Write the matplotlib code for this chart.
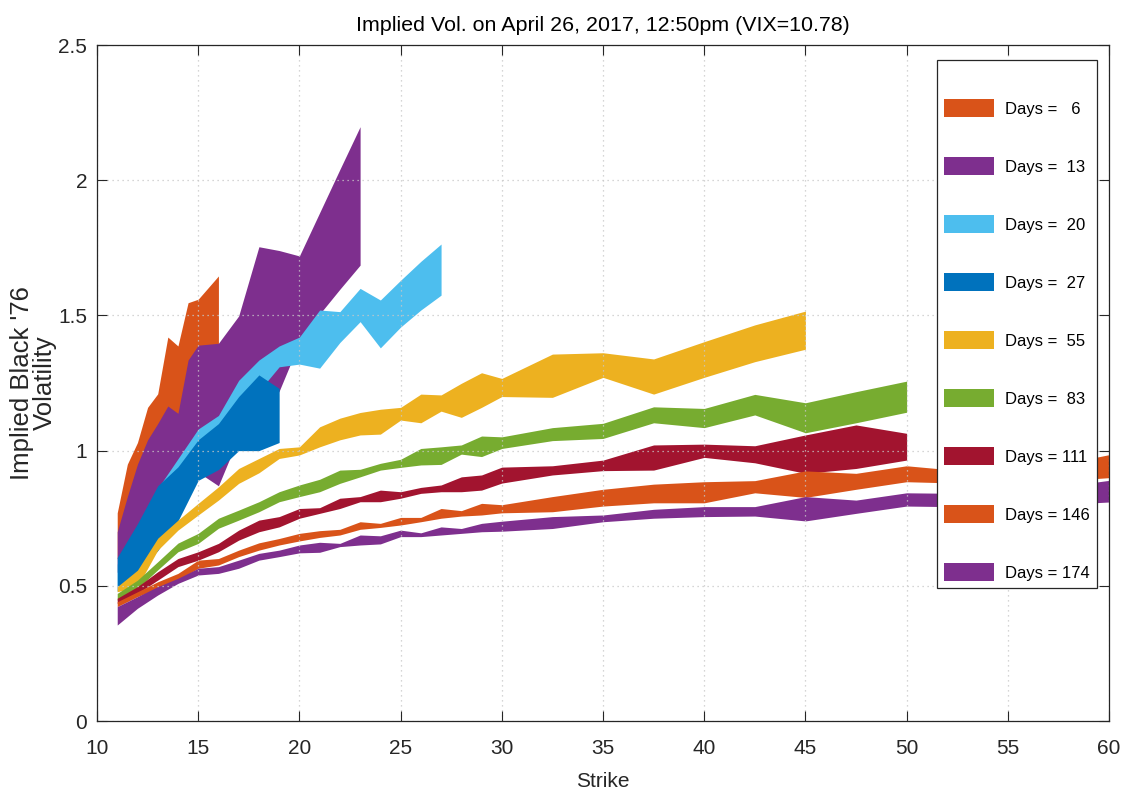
import matplotlib
matplotlib.use('Agg')
import matplotlib.pyplot as plt
from matplotlib.patches import Patch, Rectangle

plt.rcParams['font.family'] = ['Liberation Sans', 'DejaVu Sans']

# ---- data: implied vol bands (bid/ask) per expiry ----
days = [6, 13, 20, 27, 55, 83, 111, 146, 174]
colors = ['#D95319', '#7E2F8E', '#4DBEEE', '#0072BD', '#EDB120',
          '#77AC30', '#A2142F', '#D95319', '#7E2F8E']

k_6 = [11, 11.5, 12, 12.5, 13, 13.5, 14, 14.5, 15, 16]
hi_6 = [0.77, 0.95, 1.03, 1.16, 1.21, 1.42, 1.387, 1.547, 1.56, 1.646]
lo_6 = [0.60, 0.68, 0.78, 0.90, 0.98, 1.08, 1.06, 1.22, 1.30, 1.36]

k_13 = [11, 11.5, 12, 12.5, 13, 13.5, 14, 14.5, 15, 16, 17, 18, 19, 20, 21, 22, 23]
hi_13 = [0.70, 0.83, 0.95, 1.04, 1.10, 1.165, 1.138, 1.335, 1.39, 1.397, 1.498,
         1.754, 1.74, 1.72, 1.88, 2.04, 2.198]
lo_13 = [0.55, 0.58, 0.63, 0.68, 0.72, 0.76, 0.80, 0.84, 0.92, 0.87, 1.05,
         1.12, 1.22, 1.40, 1.505, 1.597, 1.686]

k_20 = [11, 12, 13, 14, 15, 16, 17, 18, 19, 20, 21, 22, 23, 24, 25, 26, 27]
hi_20 = [0.58, 0.72, 0.86, 0.97, 1.08, 1.13, 1.26, 1.335, 1.387, 1.42, 1.52,
         1.514, 1.60, 1.557, 1.63, 1.70, 1.764]
lo_20 = [0.50, 0.56, 0.66, 0.76, 0.92, 0.98, 1.08, 1.22, 1.31, 1.32, 1.305,
         1.40, 1.477, 1.38, 1.457, 1.52, 1.575]

k_27 = [11, 12, 13, 14, 15, 16, 17, 18, 19]
hi_27 = [0.605, 0.73, 0.87, 0.94, 1.04, 1.10, 1.20, 1.28, 1.23]
lo_27 = [0.48, 0.55, 0.63, 0.74, 0.89, 0.93, 1.00, 1.00, 1.03]

k_55 = [11, 12, 13, 14, 15, 16, 17, 18, 19, 20, 21, 22, 23, 24, 25, 26, 27, 28,
        29, 30, 32.5, 35, 37.5, 40, 42.5, 45]
hi_55 = [0.497, 0.558, 0.676, 0.743, 0.805, 0.866, 0.934, 0.971, 1.008, 1.014,
         1.088, 1.12, 1.141, 1.153, 1.16, 1.209, 1.206, 1.249, 1.288, 1.267,
         1.357, 1.362, 1.339, 1.403, 1.465, 1.516]
lo_55 = [0.478, 0.497, 0.632, 0.706, 0.762, 0.817, 0.879, 0.918, 0.971, 0.984,
         1.014, 1.04, 1.058, 1.061, 1.113, 1.103, 1.146, 1.123, 1.16, 1.20,
         1.197, 1.271, 1.209, 1.271, 1.329, 1.375]

k_83 = [11, 12, 13, 14, 15, 16, 17, 18, 19, 20, 21, 22, 23, 24, 25, 26, 27, 28,
        29, 30, 32.5, 35, 37.5, 40, 42.5, 45, 47.5, 50]
hi_83 = [0.472, 0.521, 0.589, 0.658, 0.694, 0.75, 0.78, 0.811, 0.848, 0.873,
         0.894, 0.928, 0.931, 0.953, 0.968, 1.008, 1.014, 1.021, 1.054, 1.051,
         1.085, 1.101, 1.162, 1.156, 1.208, 1.177, 1.218, 1.257]
lo_83 = [0.447, 0.49, 0.559, 0.626, 0.657, 0.713, 0.743, 0.774, 0.811, 0.83,
         0.848, 0.879, 0.903, 0.928, 0.938, 0.947, 0.949, 0.987, 0.978, 1.008,
         1.037, 1.045, 1.103, 1.085, 1.132, 1.066, 1.103, 1.142]

k_111 = k_83
hi_111 = [0.454, 0.497, 0.552, 0.601, 0.626, 0.657, 0.706, 0.743, 0.756, 0.786,
          0.789, 0.824, 0.83, 0.854, 0.848, 0.864, 0.873, 0.903, 0.91, 0.939,
          0.944, 0.965, 1.021, 1.024, 1.018, 1.058, 1.095, 1.064]
lo_111 = [0.435, 0.472, 0.521, 0.571, 0.595, 0.626, 0.669, 0.70, 0.718, 0.75,
          0.768, 0.786, 0.811, 0.811, 0.824, 0.842, 0.848, 0.848, 0.854, 0.88,
          0.91, 0.926, 0.928, 0.975, 0.955, 0.916, 0.934, 0.965]

k_146 = [11, 12, 13, 14, 15, 16, 17, 18, 19, 20, 21, 22, 23, 24, 25, 26, 27, 28,
         29, 30, 32.5, 35, 37.5, 40, 42.5, 45, 47.5, 50, 55, 60]
hi_146 = [0.441, 0.478, 0.515, 0.546, 0.595, 0.601, 0.632, 0.659, 0.675, 0.694,
          0.704, 0.709, 0.737, 0.731, 0.753, 0.753, 0.786, 0.778, 0.805, 0.80,
          0.83, 0.857, 0.876, 0.885, 0.889, 0.925, 0.916, 0.944, 0.91, 0.985]
lo_146 = [0.423, 0.46, 0.49, 0.521, 0.565, 0.577, 0.608, 0.632, 0.651, 0.666,
          0.679, 0.688, 0.709, 0.716, 0.725, 0.737, 0.75, 0.758, 0.762, 0.77,
          0.774, 0.795, 0.807, 0.807, 0.844, 0.827, 0.857, 0.885, 0.875, 0.90]

k_174 = k_146
hi_174 = [0.423, 0.46, 0.497, 0.528, 0.565, 0.571, 0.595, 0.62, 0.632, 0.651,
          0.661, 0.657, 0.688, 0.685, 0.706, 0.696, 0.718, 0.712, 0.731, 0.739,
          0.756, 0.762, 0.783, 0.793, 0.793, 0.83, 0.817, 0.844, 0.84, 0.89]
lo_174 = [0.355, 0.417, 0.466, 0.509, 0.54, 0.546, 0.565, 0.595, 0.608, 0.622,
          0.624, 0.645, 0.651, 0.655, 0.682, 0.682, 0.688, 0.694, 0.70, 0.702,
          0.712, 0.737, 0.75, 0.756, 0.758, 0.74, 0.768, 0.795, 0.79, 0.81]

strikes = [k_6, k_13, k_20, k_27, k_55, k_83, k_111, k_146, k_174]
vol_hi = [hi_6, hi_13, hi_20, hi_27, hi_55, hi_83, hi_111, hi_146, hi_174]
vol_lo = [lo_6, lo_13, lo_20, lo_27, lo_55, lo_83, lo_111, lo_146, lo_174]

dark = '#262626'

fig = plt.figure(figsize=(11.29, 7.94), dpi=100)
ax = fig.add_axes([0.0859, 0.0919, 0.8964, 0.8514])

# bands drawn in expiry order, later ones on top
for k, lo, hi, c in zip(strikes, vol_lo, vol_hi, colors):
    ax.fill_between(k, lo, hi, color=c, linewidth=0, zorder=2)

ax.set_xlim(10, 60)
ax.set_ylim(0, 2.5)
ax.set_xticks(range(10, 61, 5))
ax.set_yticks([0, 0.5, 1, 1.5, 2, 2.5])
ax.set_yticklabels(['0', '0.5', '1', '1.5', '2', '2.5'])

ax.grid(True, color='#c8c8c8', linestyle=(0, (1, 3)), linewidth=0.9, zorder=3)
ax.set_axisbelow(False)
ax.tick_params(direction='in', length=7, width=0.8, top=True, right=True,
               colors=dark, labelsize=15)
ax.tick_params(axis='x', pad=13)
ax.tick_params(axis='y', pad=7)
for s in ax.spines.values():
    s.set_color(dark)
    s.set_linewidth(0.9)
    s.set_zorder(4)

ax.set_title('Implied Vol. on April 26, 2017, 12:50pm (VIX=10.78)',
             fontsize=15.4, color='black', pad=10)
ax.set_xlabel('Strike', fontsize=15, color=dark, labelpad=10)
ax.set_ylabel("Implied Black '76\nVolatility", fontsize=18.5, color=dark,
              labelpad=1, linespacing=0.95)

# legend box is taller than its entries (blank strip on top), so draw frame apart
ax.add_patch(Rectangle((0.830, 0.1967), 0.158, 0.781, transform=ax.transAxes,
                       facecolor='white', edgecolor=dark, linewidth=0.9, zorder=4.5))
handles = [Patch(facecolor=c, edgecolor='none') for c in colors]
labels = ['Days = %3d' % d for d in days]
leg = ax.legend(handles, labels, loc='upper right', bbox_to_anchor=(0.988, 0.931),
                borderaxespad=0, fontsize=12, handlelength=3.0, handleheight=1.3,
                handletextpad=0.65, labelspacing=2.39, borderpad=0.45,
                frameon=False)
leg.set_zorder(5)

fig.savefig('out.png', dpi=100)
